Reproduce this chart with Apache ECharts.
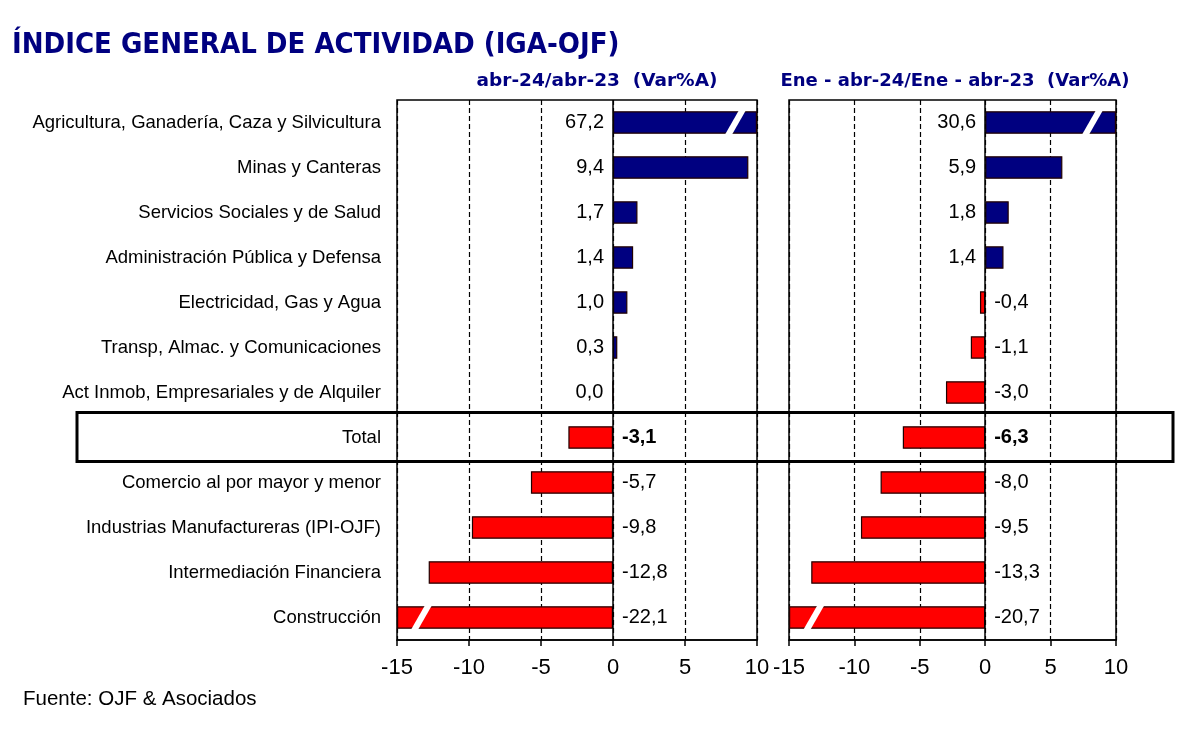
<!DOCTYPE html>
<html><head><meta charset="utf-8">
<script src="https://cdn.jsdelivr.net/npm/echarts@6/dist/echarts.min.js"></script>
<style>html,body{margin:0;padding:0;background:#fff}#c{width:1197px;height:752px}</style>
</head><body><div id="c"></div>
<script>
const categories = [
  "Agricultura, Ganadería, Caza y Silvicultura",
  "Minas y Canteras",
  "Servicios Sociales y de Salud",
  "Administración Pública y Defensa",
  "Electricidad, Gas y Agua",
  "Transp, Almac. y Comunicaciones",
  "Act Inmob, Empresariales y de Alquiler",
  "Total",
  "Comercio al por mayor y menor",
  "Industrias Manufactureras (IPI-OJF)",
  "Intermediación Financiera",
  "Construcción"
];
const mensual = [67.2, 9.4, 1.7, 1.4, 1.0, 0.3, 0.0, -3.1, -5.7, -9.8, -12.8, -22.1];
const acumulado = [30.6, 5.9, 1.8, 1.4, -0.4, -1.1, -3.0, -6.3, -8.0, -9.5, -13.3, -20.7];
const tickValues = [-15, -10, -5, 0, 5, 10];
const titleText = "ÍNDICE GENERAL DE ACTIVIDAD (IGA-OJF)";
const subtitleLeft = "abr-24/abr-23  (Var%A)";
const subtitleRight = "Ene - abr-24/Ene - abr-23  (Var%A)";
const sourceText = "Fuente: OJF & Asociados";
// axis break marks for clipped bars: [value on axis, category index]
const breaksLeft = [[8.5, 0], [-13.3, 11]];
const breaksRight = [[8.2, 0], [-13.1, 11]];

const AX_MIN = -15, AX_MAX = 10;
const NAVY = '#000080', RED = '#ff0000';
const fmt = v => v.toFixed(1).replace('.', ',');
const totalIdx = categories.indexOf('Total');

function barData(vals) {
  return vals.map((v, i) => {
    const shown = Math.max(AX_MIN, Math.min(AX_MAX, v));
    const pos = v >= 0;
    const isTotal = i === totalIdx;
    return {
      value: shown,
      itemStyle: { color: pos ? NAVY : RED, borderColor: '#200000', borderWidth: 1.2 },
      label: {
        show: true,
        position: pos ? 'left' : 'right',
        distance: 9,
        formatter: () => fmt(v),
        fontFamily: 'Liberation Sans, Arial',
        fontSize: 20,
        fontWeight: isTotal ? 'bold' : 'normal',
        color: '#000'
      }
    };
  });
}

function breakSeries(data, gi) {
  return {
    type: 'custom', xAxisIndex: gi, yAxisIndex: gi, silent: true, z: 5,
    data: data,
    renderItem: (params, api) => {
      const p = api.coord([api.value(0), api.value(1)]);
      const h = api.size([0, 1])[1] * 0.25 + 1;
      const s = 7, w = 3.5;
      return {
        type: 'polygon',
        shape: { points: [[p[0] - s - w, p[1] + h], [p[0] - s + w, p[1] + h], [p[0] + s + w, p[1] - h], [p[0] + s - w, p[1] - h]] },
        style: { fill: '#fff' }
      };
    }
  };
}

const xAxisBase = gi => ({
  type: 'value', gridIndex: gi, min: AX_MIN, max: AX_MAX, interval: 5,
  axisLine: { show: true, lineStyle: { color: '#000', width: 1.5 } },
  axisTick: { show: true, length: 6, lineStyle: { color: '#000', width: 1.5 } },
  axisLabel: { fontFamily: 'Liberation Sans, Arial', fontSize: 22, color: '#000', margin: 17,
    formatter: v => String(v) },
  splitLine: { show: true, lineStyle: { color: '#000', type: [5, 3], width: 1.2 } }
});
const yAxisBase = (gi, showLabels) => ({
  type: 'category', gridIndex: gi, data: categories, inverse: true,
  axisLine: { show: false }, axisTick: { show: false },
  axisLabel: { show: showLabels, fontFamily: 'Liberation Sans, Arial', fontSize: 18.5, color: '#000', margin: 16 },
  splitLine: { show: false }
});

const zeroLine = {
  silent: true, symbol: 'none', label: { show: false },
  lineStyle: { color: '#000', type: 'solid', width: 1.5 },
  data: [{ xAxis: 0 }]
};

const chart = echarts.init(document.getElementById('c'), null, { renderer: 'canvas' });
chart.setOption({
  animation: false,
  backgroundColor: '#fff',
  grid: [
    { left: 397, top: 100, width: 360, height: 540, show: true, borderColor: '#000', borderWidth: 1.5, backgroundColor: 'transparent' },
    { left: 789, top: 100, width: 327, height: 540, show: true, borderColor: '#000', borderWidth: 1.5, backgroundColor: 'transparent' }
  ],
  xAxis: [xAxisBase(0), xAxisBase(1)],
  yAxis: [yAxisBase(0, true), yAxisBase(1, false)],
  series: [
    { type: 'bar', xAxisIndex: 0, yAxisIndex: 0, barWidth: '50%', data: barData(mensual), markLine: zeroLine },
    { type: 'bar', xAxisIndex: 1, yAxisIndex: 1, barWidth: '50%', data: barData(acumulado), markLine: zeroLine },
    breakSeries(breaksLeft, 0),
    breakSeries(breaksRight, 1)
  ]
});

const yTot = chart.convertToPixel({ yAxisIndex: 0 }, 'Total');
chart.setOption({
  graphic: [
    { type: 'text', x: 12, y: 45, style: { text: titleText, fill: '#000080', verticalAlign: 'middle', font: 'bold 29px "DejaVu Sans Condensed", "DejaVu Sans", sans-serif' } },
    { type: 'text', x: 597, y: 81, style: { text: subtitleLeft, fill: '#000080', align: 'center', verticalAlign: 'middle', font: 'bold 18.5px "DejaVu Sans", sans-serif' } },
    { type: 'text', x: 955, y: 81, style: { text: subtitleRight, fill: '#000080', align: 'center', verticalAlign: 'middle', font: 'bold 18px "DejaVu Sans", sans-serif' } },
    { type: 'text', x: 23, y: 699, style: { text: sourceText, fill: '#000', verticalAlign: 'middle', font: '20.5px "Liberation Sans", Arial, sans-serif' } },
    { type: 'rect', shape: { x: 77, y: yTot - 25, width: 1096, height: 49 }, style: { fill: 'none', stroke: '#000', lineWidth: 3 }, z: 10 }
  ]
});
</script></body></html>
